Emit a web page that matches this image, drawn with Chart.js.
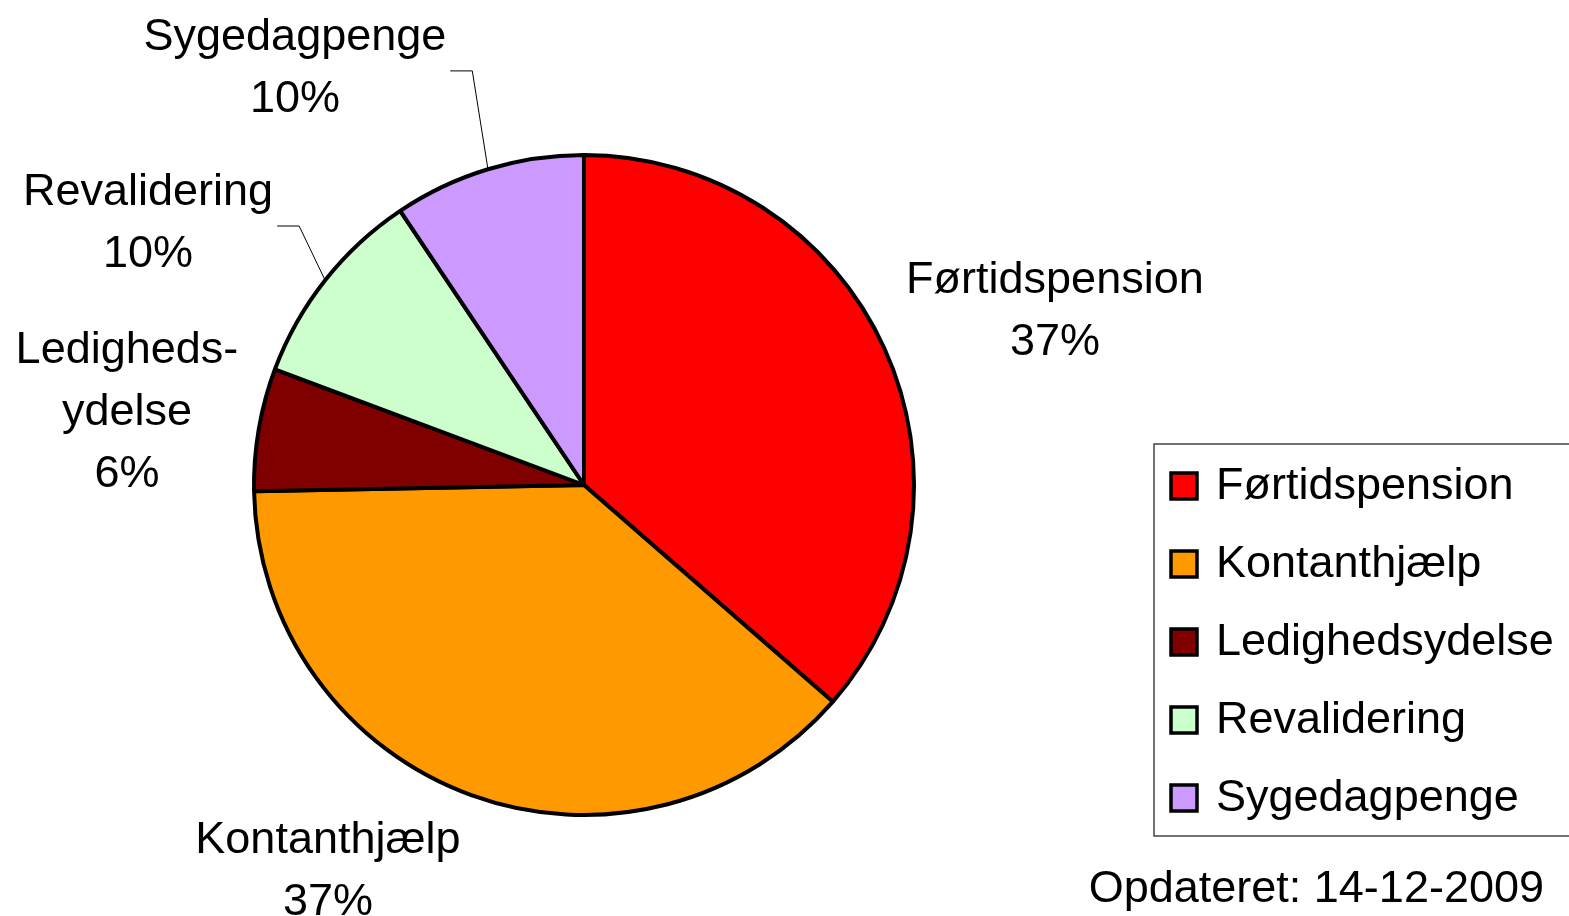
<!DOCTYPE html>
<html>
<head>
<meta charset="utf-8">
<script src="https://cdn.jsdelivr.net/npm/chart.js@4/dist/chart.umd.min.js"></script>
<style>
  html, body { margin: 0; padding: 0; background: #fff; }
  #wrap { width: 1569px; height: 916px; }
</style>
</head>
<body>
<div id="wrap"><canvas id="myChart"></canvas></div>
<script>
const categories = ['Førtidspension', 'Kontanthjælp', 'Ledighedsydelse', 'Revalidering', 'Sygedagpenge'];
const shares = [36.4, 38.3, 6.0, 9.9, 9.4];
const percentLabels = ['37%', '37%', '6%', '10%', '10%'];
const labelLines = [['Førtidspension'], ['Kontanthjælp'], ['Ledigheds-', 'ydelse'], ['Revalidering'], ['Sygedagpenge']];
const updatedText = 'Opdateret: 14-12-2009';

const sliceColors = ['#ff0000', '#ff9900', '#800000', '#ccffcc', '#cc99ff'];

// labels were dragged by hand in the original, so keep their spot per slice (in radii from the centre)
const labelOffsets = [[1.427, -0.536], [-0.776, 1.161], [-1.385, -0.230], [-1.321, -0.800], [-0.876, -1.270]];
const withLeader = [false, false, false, true, true];

const fontFamily = '"Liberation Sans", Arial, sans-serif';
const fontSize = 45;
const lineGap = 62;

const legendBox = { left: 1154, top: 444, bottom: 836, firstY: 486, step: 78, swatch: 26, swatchX: 1171, textX: 1216 };

const sliceLabels = {
  id: 'sliceLabels',
  afterDatasetsDraw(chart) {
    const ctx = chart.ctx;
    const arcs = chart.getDatasetMeta(0).data;
    ctx.save();
    ctx.font = fontSize + 'px ' + fontFamily;
    ctx.fillStyle = '#000';
    ctx.textAlign = 'center';
    ctx.textBaseline = 'middle';
    arcs.forEach((arc, i) => {
      const { x, y, outerRadius, startAngle, endAngle } = arc.getProps(['x', 'y', 'outerRadius', 'startAngle', 'endAngle'], true);
      const lines = labelLines[i].concat(percentLabels[i]);
      const cx = x + labelOffsets[i][0] * outerRadius;
      const cy = y + labelOffsets[i][1] * outerRadius;
      const top = cy - (lines.length - 1) * lineGap / 2;
      lines.forEach((t, k) => ctx.fillText(t, cx, top + k * lineGap + 3));

      if (withLeader[i]) {
        const mid = (startAngle + endAngle) / 2;
        const ex = x + Math.cos(mid) * outerRadius;
        const ey = y + Math.sin(mid) * outerRadius;
        const w = Math.max(...lines.map(t => ctx.measureText(t).width));
        const lx = cx + w / 2 + 4;
        const ly = cy + 5;
        ctx.beginPath();
        ctx.moveTo(lx, ly);
        ctx.lineTo(lx + 22, ly);
        ctx.lineTo(ex, ey);
        ctx.lineWidth = 1;
        ctx.strokeStyle = '#000';
        ctx.stroke();
      }
    });
    ctx.restore();
  }
};

const boxLegend = {
  id: 'boxLegend',
  afterDraw(chart) {
    const ctx = chart.ctx;
    const ds = chart.data.datasets[0];
    const lb = legendBox;
    ctx.save();
    ctx.strokeStyle = '#444';
    ctx.lineWidth = 1.5;
    ctx.strokeRect(lb.left, lb.top, chart.width - lb.left + 5, lb.bottom - lb.top);

    ctx.font = fontSize + 'px ' + fontFamily;
    ctx.textAlign = 'left';
    ctx.textBaseline = 'middle';
    chart.data.labels.forEach((name, i) => {
      const yy = lb.firstY + i * lb.step;
      ctx.fillStyle = ds.backgroundColor[i];
      ctx.fillRect(lb.swatchX, yy - lb.swatch / 2, lb.swatch, lb.swatch);
      ctx.lineWidth = 3.5;
      ctx.strokeStyle = '#000';
      ctx.strokeRect(lb.swatchX, yy - lb.swatch / 2, lb.swatch, lb.swatch);
      ctx.fillStyle = '#000';
      ctx.fillText(name, lb.textX, yy + 1);
    });

    ctx.textAlign = 'right';
    ctx.fillText(updatedText, 1544, 890);
    ctx.restore();
  }
};

const ctx = document.getElementById('myChart');

new Chart(ctx, {
  type: 'pie',
  data: {
    labels: categories,
    datasets: [{
      data: shares,
      backgroundColor: sliceColors,
      borderColor: '#000',
      borderWidth: 4
    }]
  },
  options: {
    responsive: true,
    maintainAspectRatio: false,
    animation: false,
    events: [],
    radius: 330,
    layout: { padding: { left: 0, right: 401, top: 54, bottom: 0 } },
    plugins: {
      legend: { display: false },
      tooltip: { enabled: false },
      title: { display: false }
    }
  },
  plugins: [sliceLabels, boxLegend]
});
</script>
</body>
</html>
